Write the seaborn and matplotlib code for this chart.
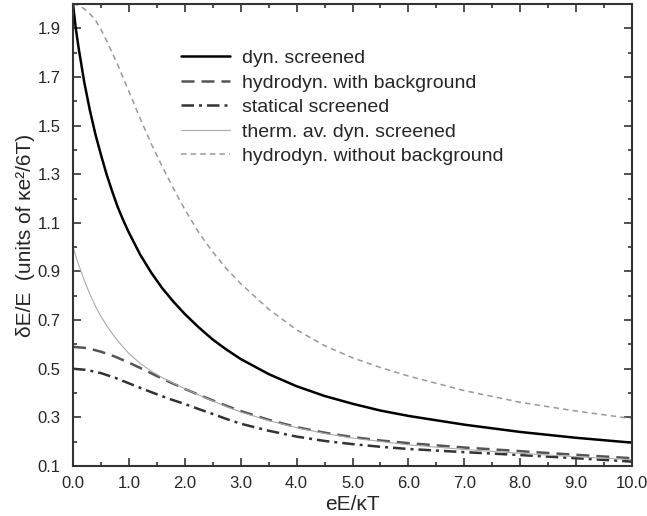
import matplotlib
matplotlib.use('Agg')
import matplotlib.pyplot as plt
from matplotlib.ticker import MultipleLocator, FormatStrFormatter
import pandas as pd
import seaborn as sns

# values
x_dyn = [0.0, 0.05, 0.1, 0.2, 0.3, 0.4, 0.5, 0.6, 0.7, 0.8, 0.9, 1.0, 1.2, 1.4, 1.6, 1.8, 2.0,
         2.25, 2.5, 2.75, 3.0, 3.5, 4.0, 4.5, 5.0, 5.5, 6.0, 7.0, 8.0, 9.0, 10.0]
y_dyn = [2.0, 1.9, 1.82, 1.68, 1.565, 1.465, 1.38, 1.30, 1.23, 1.165, 1.11, 1.06, 0.97, 0.895, 0.83,
         0.775, 0.725, 0.67, 0.62, 0.578, 0.54, 0.478, 0.428, 0.388, 0.356, 0.328, 0.306, 0.27,
         0.24, 0.216, 0.196]

x_hydro_bg = [0.0, 0.25, 0.5, 0.75, 1.0, 1.25, 1.5, 1.75, 2.0, 2.25, 2.5, 2.75, 3.0, 3.5, 4.0,
              4.5, 5.0, 5.5, 6.0, 7.0, 8.0, 9.0, 10.0]
y_hydro_bg = [0.59, 0.585, 0.57, 0.55, 0.525, 0.498, 0.47, 0.443, 0.417, 0.393, 0.37, 0.347,
              0.326, 0.29, 0.26, 0.237, 0.219, 0.205, 0.194, 0.176, 0.161, 0.146, 0.132]

x_static = [0.0, 0.25, 0.5, 0.75, 1.0, 1.25, 1.5, 1.75, 2.0, 2.25, 2.5, 2.75, 3.0, 3.5, 4.0,
            4.5, 5.0, 5.5, 6.0, 7.0, 8.0, 9.0, 10.0]
y_static = [0.50, 0.495, 0.482, 0.463, 0.44, 0.417, 0.395, 0.374, 0.355, 0.334, 0.314, 0.293,
            0.274, 0.245, 0.221, 0.203, 0.19, 0.179, 0.17, 0.157, 0.145, 0.132, 0.118]

x_therm = [0.0, 0.1, 0.2, 0.3, 0.4, 0.5, 0.6, 0.7, 0.8, 0.9, 1.0, 1.2, 1.4, 1.6, 1.8, 2.0, 2.25,
           2.5, 2.75, 3.0, 3.5, 4.0, 4.5, 5.0, 6.0, 7.0, 8.0, 9.0, 10.0]
y_therm = [1.0, 0.928, 0.864, 0.808, 0.758, 0.715, 0.678, 0.645, 0.615, 0.588, 0.563, 0.522, 0.49,
           0.463, 0.44, 0.418, 0.392, 0.368, 0.344, 0.322, 0.287, 0.258, 0.234, 0.215, 0.187,
           0.168, 0.152, 0.138, 0.126]

x_hydro_nobg = [0.0, 0.1, 0.2, 0.3, 0.4, 0.5, 0.6, 0.7, 0.8, 0.9, 1.0, 1.2, 1.4, 1.6, 1.8, 2.0,
                2.25, 2.5, 2.75, 3.0, 3.5, 4.0, 4.5, 5.0, 5.5, 6.0, 7.0, 8.0, 9.0, 10.0]
y_hydro_nobg = [2.0, 1.995, 1.98, 1.96, 1.935, 1.895, 1.85, 1.80, 1.75, 1.695, 1.64, 1.53, 1.425,
                1.33, 1.24, 1.155, 1.06, 0.98, 0.91, 0.85, 0.745, 0.66, 0.595, 0.545, 0.505, 0.47,
                0.41, 0.362, 0.326, 0.295]

labels = ['dyn. screened', 'hydrodyn. with background', 'statical screened',
          'therm. av. dyn. screened', 'hydrodyn. without background']

sns.set_style('ticks')
plt.rcParams['font.family'] = ['Liberation Sans', 'DejaVu Sans']

fig = plt.figure(figsize=(6.47, 5.16), dpi=100)
ax = fig.add_axes([73 / 647, 1 - 466 / 516, 559 / 647, 462 / 516])

series = [
    (x_dyn, y_dyn, dict(color='black', lw=1.8, linestyle='-')),
    (x_hydro_bg, y_hydro_bg, dict(color='#555555', lw=1.8, linestyle=(0, (5.2, 2.8)))),
    (x_static, y_static, dict(color='#333333', lw=1.8, linestyle=(0, (5.0, 2.0, 1.2, 2.0)))),
    (x_therm, y_therm, dict(color='#aaaaaa', lw=0.8, linestyle='-')),
    (x_hydro_nobg, y_hydro_nobg, dict(color='#999999', lw=1.1, linestyle=(0, (3.6, 2.7)))),
]
for (xs, ys, style), label in zip(series, labels):
    df = pd.DataFrame({'x': xs, 'y': ys})
    sns.lineplot(data=df, x='x', y='y', ax=ax, label=label, **style)

ax.set_xlim(0, 10)
ax.set_ylim(0.1, 2.0)
ax.xaxis.set_major_locator(MultipleLocator(1.0))
ax.xaxis.set_minor_locator(MultipleLocator(0.5))
ax.yaxis.set_minor_locator(MultipleLocator(0.1))
ax.set_yticks([0.1 + 0.2 * i for i in range(10)])
ax.xaxis.set_major_formatter(FormatStrFormatter('%.1f'))
ax.yaxis.set_major_formatter(FormatStrFormatter('%.1f'))
ax.tick_params(which='both', direction='in', top=True, right=True, color='#333333', width=1.2)
ax.tick_params(which='major', length=6, labelsize=12)
ax.tick_params(axis='y', which='major', pad=9)
ax.tick_params(axis='x', which='major', pad=7)
ax.tick_params(which='minor', length=3)
for sp in ax.spines.values():
    sp.set_color('#333333')
    sp.set_linewidth(1.5)

ax.set_xlabel('eE/\u03baT', fontsize=15, labelpad=3)
ax.set_ylabel('\u03b4E/E  (units of \u03bae\u00b2/6T)', fontsize=15, labelpad=2)

ax.legend(loc='upper left', bbox_to_anchor=(0.18, 0.918), frameon=False, borderaxespad=0,
          fontsize=14, handlelength=2.5, labelspacing=0.35, handletextpad=0.6)

fig.savefig('out.png', dpi=100)
